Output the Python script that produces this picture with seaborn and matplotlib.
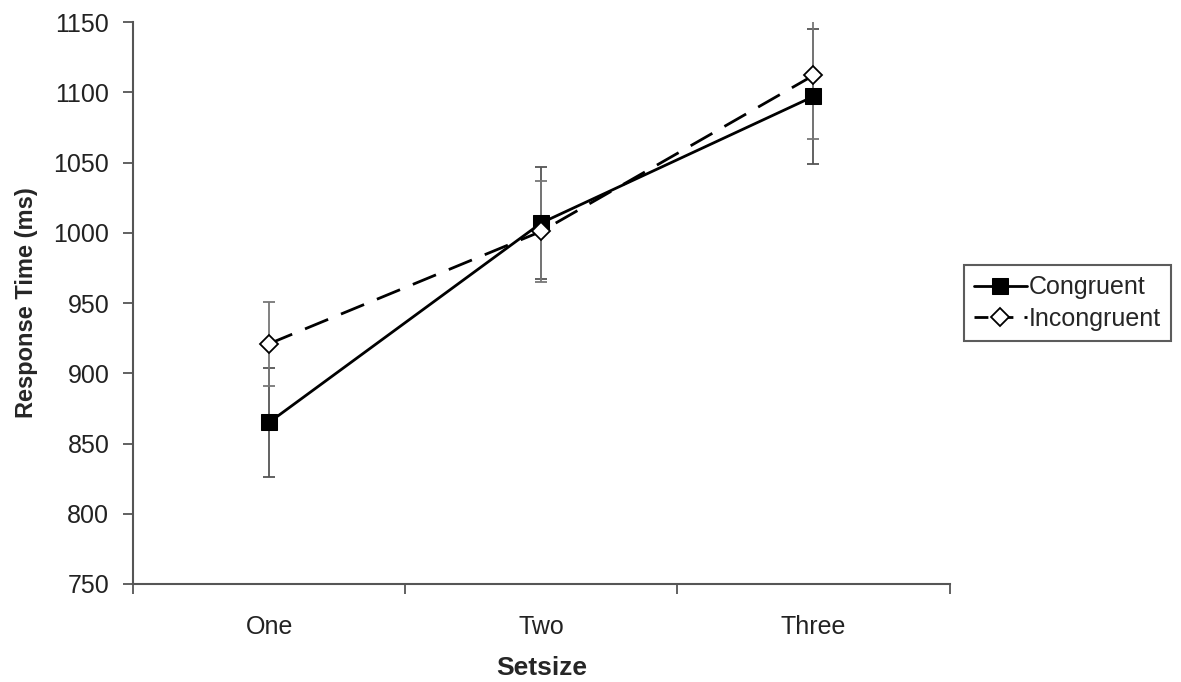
import numpy as np
import pandas as pd
import matplotlib
matplotlib.use("Agg")
import matplotlib.pyplot as plt
import seaborn as sns

# values
setsizes = ["One", "Two", "Three"]
congruent_rt = [865, 1007, 1097]
congruent_err = [39, 40, 48]
incongruent_rt = [921, 1001, 1112]
incongruent_err = [30, 36, 45]

sns.set_style("white")
plt.rcParams['font.family'] = ['Liberation Sans', 'DejaVu Sans']

df = pd.DataFrame({
    'pos': list(range(len(setsizes))) * 2,
    'rt': congruent_rt + incongruent_rt,
    'cond': ['Congruent'] * 3 + ['Incongruent'] * 3,
})

fig = plt.figure(figsize=(11.81, 6.82), dpi=100)
ax = fig.add_axes([0.1126, 0.1437, 0.6914, 0.824])

# error bars first so the markers sit on top
x = np.arange(len(setsizes))
ax.errorbar(x, congruent_rt, yerr=congruent_err, fmt='none', ecolor='#555555',
            elinewidth=1.3, capsize=4, capthick=1.3, zorder=1)
ax.errorbar(x, incongruent_rt, yerr=incongruent_err, fmt='none', ecolor='#777777',
            elinewidth=1.3, capsize=4, capthick=1.3, zorder=1)

sns.lineplot(data=df[df['cond'] == 'Congruent'], x='pos', y='rt', ax=ax,
             color='black', linewidth=2, marker='s', markersize=11,
             markerfacecolor='black', markeredgecolor='black',
             label='Congruent', zorder=3)
sns.lineplot(data=df[df['cond'] == 'Incongruent'], x='pos', y='rt', ax=ax,
             color='black', linewidth=2, marker='D', markersize=9,
             markerfacecolor='white', markeredgecolor='black', markeredgewidth=1.3,
             label='Incongruent', zorder=3)
ax.lines[-1].set_dashes([9, 5])

ax.set_xlim(-0.5, 2.5)
ax.set_ylim(750, 1150)
ax.set_yticks(np.arange(750, 1151, 50))
ax.set_xticks(x)
ax.set_xticklabels(setsizes)
ax.set_xticks([-0.5, 0.5, 1.5, 2.5], minor=True)
ax.tick_params(axis='x', which='major', bottom=False, length=0, pad=22,
               labelsize=18, labelcolor='#222222')
ax.tick_params(axis='x', which='minor', bottom=True, length=7, width=1.3,
               color='#555555', direction='out')
ax.tick_params(axis='y', left=True, length=7, width=1.3, color='#555555', direction='out',
               labelsize=18, labelcolor='#222222', pad=10)

for side in ['top', 'right']:
    ax.spines[side].set_visible(False)
for side in ['left', 'bottom']:
    ax.spines[side].set_color('#555555')
    ax.spines[side].set_linewidth(1.5)

ax.set_xlabel('Setsize', fontsize=19, fontweight='bold')
ax.xaxis.set_label_coords(0.5, -0.128)
ax.set_ylabel('Response Time (ms)', fontsize=17, fontweight='bold', labelpad=11)

leg = ax.legend(loc='center left', bbox_to_anchor=(1.018, 0.5), fontsize=18,
                frameon=True, fancybox=False, edgecolor='#333333',
                handlelength=2.1, handletextpad=0.1, borderpad=0.4,
                labelspacing=0.3, borderaxespad=0)
leg.get_frame().set_linewidth(1.5)
leg.get_lines()[1].set_dashes([5, 4])

fig.savefig('out.png', dpi=100)
